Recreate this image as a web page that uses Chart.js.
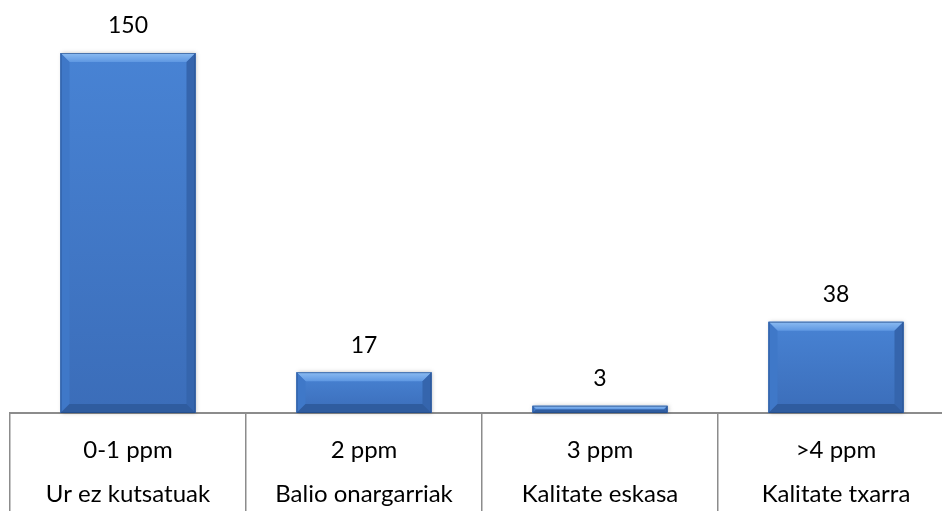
<!DOCTYPE html>
<html>
<head>
<meta charset="utf-8">
<script src="https://cdn.jsdelivr.net/npm/chart.js@4.4.0/dist/chart.umd.min.js"></script>
<style>
    html, body {
        margin: 0;
        padding: 0;
        background: #ffffff;
        overflow: hidden;
    }
    #wrap {
        position: relative;
        width: 964px;
        height: 511px;
    }
</style>
</head>
<body>
<div id="wrap"><canvas id="ppmChart"></canvas></div>
<script>
const rangeLabels = ["0-1 ppm", "2 ppm", "3 ppm", ">4 ppm"];
const qualityLabels = ["Ur ez kutsatuak", "Balio onargarriak", "Kalitate eskasa", "Kalitate txarra"];
const sampleCounts = [150, 17, 3, 38];

const labelFont = "Lato, 'Open Sans', sans-serif";

// bevelled look of the bars, drawn over the bar geometry chart.js computed
const bevelPlugin = {
    id: "bevel",
    afterDatasetsDraw(chart) {
        const ctx = chart.ctx;
        const meta = chart.getDatasetMeta(0);
        meta.data.forEach((bar) => {
            const left = bar.x - bar.width / 2;
            const right = bar.x + bar.width / 2;
            const top = bar.y;
            const bottom = bar.base;
            const b = Math.min(9, (bottom - top) / 2);

            ctx.save();
            ctx.shadowColor = "rgba(0,0,0,0.25)";
            ctx.shadowBlur = 4;
            ctx.shadowOffsetX = 1;
            const face = ctx.createLinearGradient(0, top, 0, bottom);
            face.addColorStop(0, "#4883d4");
            face.addColorStop(1, "#3b6db9");
            ctx.fillStyle = face;
            ctx.fillRect(left, top, right - left, bottom - top);
            ctx.restore();

            ctx.save();
            // top
            const topGrad = ctx.createLinearGradient(0, top, 0, top + b);
            topGrad.addColorStop(0, "#8cbcf2");
            topGrad.addColorStop(1, "#5f98e2");
            ctx.fillStyle = topGrad;
            ctx.beginPath();
            ctx.moveTo(left, top);
            ctx.lineTo(right, top);
            ctx.lineTo(right - b, top + b);
            ctx.lineTo(left + b, top + b);
            ctx.closePath();
            ctx.fill();
            // left
            ctx.fillStyle = "#3f78c8";
            ctx.beginPath();
            ctx.moveTo(left, top);
            ctx.lineTo(left + b, top + b);
            ctx.lineTo(left + b, bottom - b);
            ctx.lineTo(left, bottom);
            ctx.closePath();
            ctx.fill();
            // right
            ctx.fillStyle = "#3565ad";
            ctx.beginPath();
            ctx.moveTo(right, top);
            ctx.lineTo(right - b, top + b);
            ctx.lineTo(right - b, bottom - b);
            ctx.lineTo(right, bottom);
            ctx.closePath();
            ctx.fill();
            // bottom
            ctx.fillStyle = "#2f5c9f";
            ctx.beginPath();
            ctx.moveTo(left, bottom);
            ctx.lineTo(left + b, bottom - b);
            ctx.lineTo(right - b, bottom - b);
            ctx.lineTo(right, bottom);
            ctx.closePath();
            ctx.fill();
            ctx.strokeStyle = "rgba(30,70,130,0.6)";
            ctx.lineWidth = 1;
            ctx.strokeRect(left + 0.5, top + 0.5, right - left - 1, bottom - top - 1);
            ctx.restore();
        });
    },
};

// value labels above each bar
const valueLabelPlugin = {
    id: "valueLabels",
    afterDatasetsDraw(chart) {
        const ctx = chart.ctx;
        const meta = chart.getDatasetMeta(0);
        ctx.save();
        ctx.font = "23px " + labelFont;
        ctx.fillStyle = "#000000";
        ctx.textAlign = "center";
        ctx.textBaseline = "middle";
        meta.data.forEach((bar, i) => {
            ctx.fillText(String(sampleCounts[i]), bar.x, bar.y - 27);
        });
        ctx.restore();
    },
};

const labels = rangeLabels.map((r, i) => [r, qualityLabels[i]]);

new Chart(document.getElementById("ppmChart"), {
    type: "bar",
    data: {
        labels: labels,
        datasets: [
            {
                data: sampleCounts,
                backgroundColor: "#3f75c4",
                categoryPercentage: 1,
                barPercentage: 0.572,
            },
        ],
    },
    options: {
        responsive: true,
        maintainAspectRatio: false,
        animation: false,
        layout: {
            padding: { top: 29, left: 10, right: 10, bottom: 0 },
        },
        plugins: {
            legend: { display: false },
            tooltip: { enabled: false },
        },
        scales: {
            x: {
                offset: true,
                afterFit(scale) {
                    scale.height = 98;
                },
                grid: {
                    offset: true,
                    drawOnChartArea: false,
                    drawTicks: true,
                    tickLength: 100,
                    color: "#8c8c8c",
                    lineWidth: 1.5,
                },
                border: {
                    display: true,
                    color: "#8c8c8c",
                    width: 2,
                },
                ticks: {
                    color: "#000000",
                    padding: -85,
                    maxRotation: 0,
                    autoSkip: false,
                    font: { family: labelFont, size: 24, lineHeight: 1.83 },
                },
            },
            y: {
                display: false,
                min: 0,
                max: 160,
            },
        },
    },
    plugins: [bevelPlugin, valueLabelPlugin],
});
</script>
</body>
</html>
